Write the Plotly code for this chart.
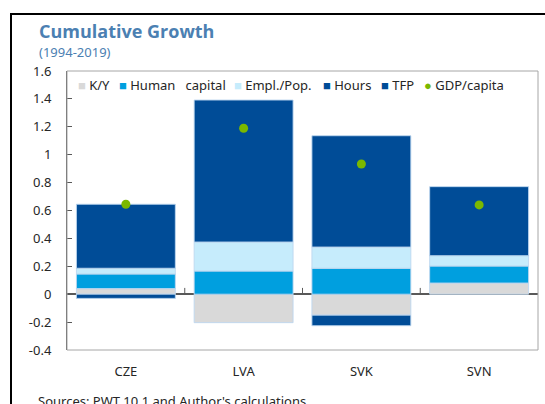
import plotly.graph_objects as go

countries = ["CZE", "LVA", "SVK", "SVN"]
ky = [0.04, -0.204, -0.15, 0.08]
human_capital = [0.105, 0.166, 0.186, 0.122]
empl_pop = [0.041, 0.208, 0.152, 0.074]
hours = [-0.03, None, -0.076, None]
tfp = [0.459, 1.018, 0.798, 0.495]
gdp_capita = [0.645, 1.19, 0.933, 0.64]

y_tick_vals = [-0.4, -0.2, 0, 0.2, 0.4, 0.6, 0.8, 1, 1.2, 1.4, 1.6]
y_tick_text = ["-0.4", "-0.2", "0", "0.2", "0.4", "0.6", "0.8", "1", "1.2", "1.4", "1.6"]

series = [
    ("K/Y", ky, "#d9d9d9"),
    ("Human\u00a0\u00a0capital", human_capital, "#009fdf"),
    ("Empl./Pop.", empl_pop, "#c6ecfc"),
    ("Hours", hours, "#004c97"),
    ("TFP", tfp, "#004c97"),
]

FONT = "Noto Sans"
W, H = 545, 404
ML, MR, MT, MB = 67, 7, 71, 54
PW, PH = W - ML - MR, H - MT - MB


def px(x):
    return (x - ML) / PW


def py(y):
    return (H - MB - y) / PH


fig = go.Figure()
for name, vals, color in series:
    fig.add_trace(go.Bar(
        x=countries, y=vals, name=name,
        marker=dict(color=color, line=dict(color="rgba(190,215,240,0.9)", width=1)),
        showlegend=False,
    ))
fig.add_trace(go.Scatter(
    x=countries, y=gdp_capita, name="GDP/capita", mode="markers",
    marker=dict(color="#7ab800", size=9), showlegend=False,
))

shapes = []
shapes.append(dict(type="rect", xref="paper", yref="paper", x0=0, x1=1, y0=0, y1=1,
                   line=dict(color="#a6a6a6", width=1)))
for i in range(len(countries) - 1):
    shapes.append(dict(type="line", xref="x", yref="y", x0=i + 0.5, x1=i + 0.5,
                       y0=0, y1=0.045, line=dict(color="#595959", width=1)))
shapes.append(dict(type="line", xref="paper", yref="paper", x0=px(11), x1=px(11),
                   y0=py(13), y1=py(410), line=dict(color="black", width=2)))
shapes.append(dict(type="line", xref="paper", yref="paper", x0=px(10), x1=px(550),
                   y0=py(14), y1=py(14), line=dict(color="black", width=2)))

annotations = [
    dict(text="<b>Cumulative Growth</b>", x=px(37), y=py(31), xref="paper", yref="paper",
         xanchor="left", yanchor="middle", showarrow=False,
         font=dict(family="Open Sans", size=18, color="#4b80b2")),
    dict(text="(1994-2019)", x=px(37), y=py(52), xref="paper", yref="paper",
         xanchor="left", yanchor="middle", showarrow=False,
         font=dict(family=FONT, size=13, color="#4b80b2")),
    dict(text="Sources: PWT 10.1 and Author's calculations", x=px(36), y=py(401),
         xref="paper", yref="paper", xanchor="left", yanchor="middle", showarrow=False,
         font=dict(family=FONT, size=13, color="#262626")),
]

legend_items = [
    ("K/Y", "#d9d9d9", "■", 76),
    ("Human\u00a0\u00a0\u00a0capital", "#009fdf", "■", 117),
    ("Empl./Pop.", "#c6ecfc", "■", 232),
    ("Hours", "#004c97", "■", 321),
    ("TFP", "#004c97", "■", 379),
    ("GDP/capita", "#7ab800", "●", 422),
]
for label, color, sym, xpix in legend_items:
    annotations.append(dict(
        text=f"<span style='color:{color}'>{sym}</span> {label}",
        x=px(xpix), y=py(85), xref="paper", yref="paper",
        xanchor="left", yanchor="middle", showarrow=False,
        font=dict(family=FONT, size=13, color="#262626"),
    ))

fig.update_layout(
    width=W, height=H,
    margin=dict(l=ML, r=MR, t=MT, b=MB),
    barmode="relative", bargap=0.16,
    plot_bgcolor="white", paper_bgcolor="white",
    font=dict(family=FONT, size=13, color="#262626"),
    shapes=shapes, annotations=annotations,
    xaxis=dict(showgrid=False, showline=False, ticks="", ticklabelstandoff=12,
               tickfont=dict(size=13)),
    yaxis=dict(range=[-0.4, 1.6], tickvals=y_tick_vals, ticktext=y_tick_text,
               showgrid=False, showline=True, linecolor="#595959", linewidth=1,
               ticks="inside", ticklen=5, tickcolor="#595959",
               zeroline=True, zerolinecolor="#595959", zerolinewidth=1.5,
               layer="above traces", ticklabelstandoff=12,
               tickfont=dict(size=13)),
)

fig.write_html("out.html", config={"displayModeBar": False},
               post_script="document.body.style.margin='0';")
